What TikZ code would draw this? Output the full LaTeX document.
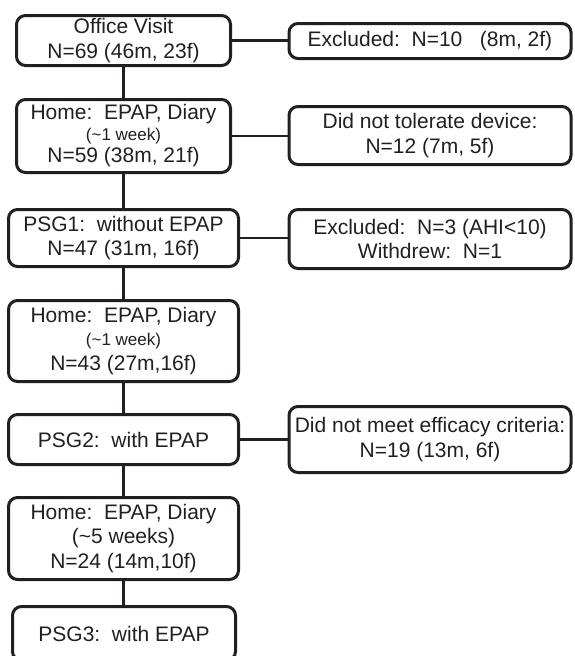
\documentclass[tikz,border=0pt]{standalone}
\usepackage{fontspec}
\setmainfont{Liberation Sans}
\definecolor{ink}{RGB}{35,31,32}
\begin{document}
\begin{tikzpicture}[x=1pt,y=-1pt,
  box/.style={draw=ink, line width=3pt, rounded corners=9pt, inner sep=0pt, align=center, text=ink, font=\fontsize{21}{24.5}\selectfont},
  conn/.style={draw=ink, line width=2.5pt}]
\useasboundingbox (0,0) rectangle (574,656);
\clip (0,0) rectangle (574,656);
% main column
\node[box, minimum width=214pt, minimum height=50pt] (b1) at (123.5,40.5) {Office Visit\\N=69 (46m, 23f)};
\node[box, minimum width=214pt, minimum height=73pt] (b2) at (123.5,136) {Home:\ \ EPAP, Diary\\[-4pt]{\fontsize{17}{19}\selectfont(\textasciitilde1 week)}\\[-2pt]N=59 (38m, 21f)};
\node[box, minimum width=230pt, minimum height=57pt] (b3) at (123.5,238) {PSG1:\ \ without EPAP\\N=47 (31m, 16f)};
\node[box, minimum width=230pt, minimum height=81pt] (b4) at (123.5,341) {Home:\ \ EPAP, Diary\\[-1pt]{\fontsize{17}{19}\selectfont(\textasciitilde1 week)}\\N=43 (27m,16f)};
\node[box, minimum width=230pt, minimum height=50pt] (b5) at (123.5,439.5) {PSG2:\ \ with EPAP};
\node[box, minimum width=230pt, minimum height=82pt] (b6) at (123.5,538.5) {Home:\ \ EPAP, Diary\\(\textasciitilde5 weeks)\\N=24 (14m,10f)};
\node[box, minimum width=223pt, minimum height=54pt] (b7) at (124,633.5) {PSG3:\ \ with EPAP};
% side column
\node[box, minimum width=282pt, minimum height=35pt] (r1) at (430,41) {Excluded:\ \ N=10\ \ \ (8m, 2f)};
\node[box, minimum width=282pt, minimum height=58pt] (r2) at (430,135.5) {Did not tolerate device:\\N=12 (7m, 5f)};
\node[box, minimum width=282pt, minimum height=59pt] (r3) at (430,239) {Excluded:\ \ N=3 (AHI<10)\\Withdrew:\ \ N=1};
\node[box, minimum width=282pt, minimum height=66pt] (r4) at (430,439.5) {Did not meet efficacy criteria:\\N=19 (13m, 6f)};
% connectors
\draw[conn] (b1.south) -- (b2.north);
\draw[conn] (b2.south) -- (b3.north);
\draw[conn] (b3.south) -- (b4.north);
\draw[conn] (b4.south) -- (b5.north);
\draw[conn] (b5.south) -- (b6.north);
\draw[conn] (b6.south) -- (b6.south |- b7.north);
\draw[conn] (b1.east) -- (b1.east -| r1.west);
\draw[conn] (b2.east) -- (b2.east -| r2.west);
\draw[conn] (b3.east) -- (b3.east -| r3.west);
\draw[conn] (b5.east) -- (b5.east -| r4.west);
\end{tikzpicture}
\end{document}
